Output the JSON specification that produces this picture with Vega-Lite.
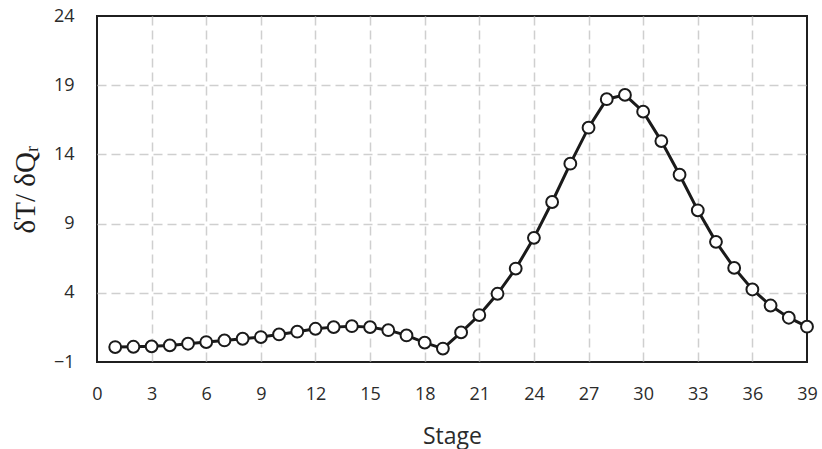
{
  "$schema": "https://vega.github.io/schema/vega-lite/v6.json",
  "autosize": {"type": "none"},
  "padding": {"left": 97, "top": 16, "right": 15, "bottom": 87},
  "width": 710,
  "height": 346,
  "background": "white",
  "config": {
    "view": {"stroke": "#1f1f1f", "strokeWidth": 2},
    "axis": {
      "labelFont": "Open Sans",
      "labelFontSize": 18,
      "labelColor": "#2b2b2b",
      "titleFont": "Open Sans",
      "titleColor": "#2b2b2b",
      "titleFontWeight": "normal",
      "ticks": false,
      "domain": false,
      "gridColor": "#cfcfcf",
      "gridDash": [9, 5],
      "gridWidth": 1.5
    }
  },
  "data": {
    "values": [
      {"stage": 1, "v": 0.08}, {"stage": 2, "v": 0.1}, {"stage": 3, "v": 0.13},
      {"stage": 4, "v": 0.2}, {"stage": 5, "v": 0.32}, {"stage": 6, "v": 0.44},
      {"stage": 7, "v": 0.56}, {"stage": 8, "v": 0.68}, {"stage": 9, "v": 0.8},
      {"stage": 10, "v": 0.99}, {"stage": 11, "v": 1.19}, {"stage": 12, "v": 1.4},
      {"stage": 13, "v": 1.52}, {"stage": 14, "v": 1.59}, {"stage": 15, "v": 1.52},
      {"stage": 16, "v": 1.3}, {"stage": 17, "v": 0.92}, {"stage": 18, "v": 0.4},
      {"stage": 19, "v": -0.03}, {"stage": 20, "v": 1.14}, {"stage": 21, "v": 2.39},
      {"stage": 22, "v": 3.93}, {"stage": 23, "v": 5.75}, {"stage": 24, "v": 7.97},
      {"stage": 25, "v": 10.56}, {"stage": 26, "v": 13.33}, {"stage": 27, "v": 15.93},
      {"stage": 28, "v": 17.99}, {"stage": 29, "v": 18.3}, {"stage": 30, "v": 17.09},
      {"stage": 31, "v": 14.96}, {"stage": 32, "v": 12.53}, {"stage": 33, "v": 9.96},
      {"stage": 34, "v": 7.68}, {"stage": 35, "v": 5.8}, {"stage": 36, "v": 4.24},
      {"stage": 37, "v": 3.08}, {"stage": 38, "v": 2.2}, {"stage": 39, "v": 1.55}
    ]
  },
  "encoding": {
    "x": {
      "field": "stage", "type": "quantitative",
      "scale": {"domain": [0, 39], "nice": false, "zero": false},
      "axis": {
        "title": "Stage", "titleFontSize": 23, "titlePadding": 22,
        "values": [0, 3, 6, 9, 12, 15, 18, 21, 24, 27, 30, 33, 36, 39],
        "labelPadding": 23, "labelFlush": false,
        "gridOpacity": {"condition": {"test": "datum.value == 0 || datum.value == 39", "value": 0}, "value": 1}
      }
    },
    "y": {
      "field": "v", "type": "quantitative",
      "scale": {"domain": [-1, 24], "nice": false, "zero": false},
      "axis": {
        "title": "δT/ δQᵣ", "titleFont": "Liberation Serif", "titleFontSize": 29,
        "titleColor": "#1f1f1f", "titlePadding": 13,
        "values": [-1, 4, 9, 14, 19, 24],
        "labelPadding": 23, "labelFlush": false,
        "gridOpacity": {"condition": {"test": "datum.value == -1 || datum.value == 24", "value": 0}, "value": 1}
      }
    }
  },
  "layer": [
    {"mark": {"type": "line", "color": "#1a1a1a", "strokeWidth": 3}},
    {"mark": {"type": "point", "shape": "circle", "filled": true, "fill": "white", "stroke": "#1a1a1a", "strokeWidth": 2, "size": 140, "opacity": 1}}
  ]
}
